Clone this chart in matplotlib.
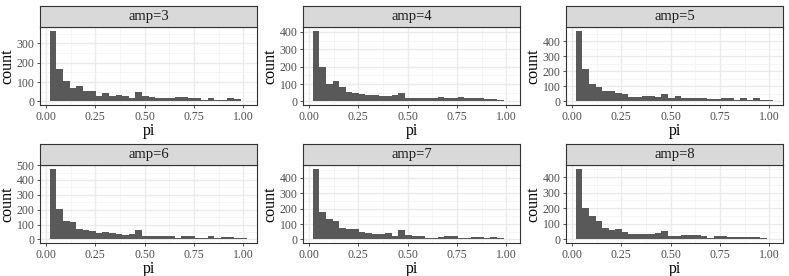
import numpy as np
import matplotlib
matplotlib.use("Agg")
import matplotlib.pyplot as plt
from matplotlib.ticker import MultipleLocator

plt.rcParams['font.family'] = ['Liberation Serif', 'DejaVu Serif']

panels = ["amp=3", "amp=4", "amp=5", "amp=6", "amp=7", "amp=8"]
bin_start = 0.02
bin_width = 1 / 30

counts_amp3 = [366, 170, 106, 70, 78, 52, 55, 29, 42, 28, 31, 29, 18, 47, 26,
               23, 19, 17, 16, 24, 21, 17, 16, 9, 16, 7, 10, 16, 12, 3]
counts_amp4 = [408, 198, 102, 117, 83, 57, 50, 44, 40, 36, 34, 30, 36, 50, 22,
               19, 20, 22, 21, 24, 19, 20, 23, 18, 20, 18, 16, 13, 8, 4]
counts_amp5 = [471, 213, 116, 96, 71, 71, 56, 49, 31, 31, 38, 38, 27, 49, 24,
               36, 20, 20, 20, 24, 18, 18, 20, 22, 11, 22, 11, 22, 7, 7]
counts_amp6 = [477, 205, 126, 117, 70, 63, 54, 45, 52, 41, 34, 27, 38, 63, 22,
               22, 20, 20, 20, 9, 22, 22, 11, 11, 20, 11, 14, 14, 9, 7]
counts_amp7 = [461, 178, 135, 117, 76, 70, 70, 48, 43, 33, 37, 41, 20, 59, 26,
               22, 22, 11, 11, 15, 20, 20, 11, 11, 17, 15, 9, 15, 9, 4]
counts_amp8 = [455, 200, 148, 120, 74, 61, 67, 48, 37, 33, 33, 37, 43, 57, 22,
               24, 26, 26, 28, 22, 11, 22, 20, 17, 17, 15, 15, 13, 9, 4]
all_counts = [counts_amp3, counts_amp4, counts_amp5, counts_amp6, counts_amp7, counts_amp8]

x_ticks = [0.0, 0.25, 0.5, 0.75, 1.0]
x_ticklabels = ["0.00", "0.25", "0.50", "0.75", "1.00"]

W, H = 789, 276
fig = plt.figure(figsize=(W / 100, H / 100), dpi=100)
fig.patch.set_facecolor("white")

col_left = [40, 303, 566]
pw = 217
rows = [(6, 27, 105), (144, 165, 243)]  # strip top, plot top, plot bottom

border = "#333333"
edges = bin_start + bin_width * np.arange(31)

for i, (name, counts) in enumerate(zip(panels, all_counts)):
    r, c = divmod(i, 3)
    st, pt, pb = rows[r]
    x0 = col_left[c]
    ax = fig.add_axes([x0 / W, 1 - pb / H, pw / W, (pb - pt) / H])
    ax.set_axisbelow(True)
    ax.bar(edges[:-1], counts, width=np.diff(edges), align="edge",
           color="#595959", linewidth=0, zorder=2)
    dmin, dmax = edges[0], edges[-1]
    rng = dmax - dmin
    ax.set_xlim(dmin - 0.05 * rng, dmax + 0.05 * rng)
    ymax = max(counts)
    ax.set_ylim(-0.05 * ymax, 1.05 * ymax)
    ax.set_xticks(x_ticks)
    ax.set_xticklabels(x_ticklabels)
    ax.xaxis.set_minor_locator(MultipleLocator(0.125))
    ax.yaxis.set_major_locator(MultipleLocator(100))
    ax.yaxis.set_minor_locator(MultipleLocator(50))
    ax.grid(True, which="major", color="#EBEBEB", linewidth=1.0, zorder=0)
    ax.grid(True, which="minor", color="#F2F2F2", linewidth=0.5, zorder=0)
    ax.tick_params(which="major", length=2.5, width=0.6, color=border,
                   labelsize=8.5, labelcolor="#4D4D4D", pad=1.5)
    ax.tick_params(which="minor", length=0)
    for sp in ax.spines.values():
        sp.set_color(border)
        sp.set_linewidth(0.8)
    ax.set_xlabel("pi", fontsize=11.5, labelpad=0)
    ax.set_ylabel("count", fontsize=11.5, labelpad=1)

    sax = fig.add_axes([x0 / W, 1 - pt / H, pw / W, (pt - st) / H])
    sax.set_facecolor("#D9D9D9")
    sax.set_xticks([])
    sax.set_yticks([])
    for sp in sax.spines.values():
        sp.set_color(border)
        sp.set_linewidth(0.8)
    sax.text(0.5, 0.5, name, ha="center", va="center", fontsize=10.5,
             color="#1A1A1A", transform=sax.transAxes)

fig.savefig("out.png", dpi=100)
